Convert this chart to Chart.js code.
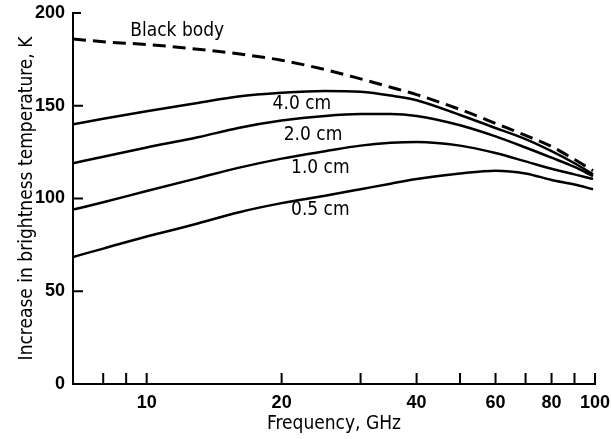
<!DOCTYPE html>
<html><head><meta charset="utf-8">
<script src="https://cdn.jsdelivr.net/npm/chart.js@4/dist/chart.umd.min.js"></script>
<style>html,body{margin:0;padding:0;background:#fff}#wrap{width:611px;height:439px}</style>
</head><body><div id="wrap"><canvas id="c" width="611" height="439"></canvas></div>
<script>
// Frequency (GHz) sample points
const frequencyGHz = [6.85, 8, 10, 13, 16, 20, 25, 30, 35, 40, 50, 60, 70, 80, 90, 99];
// Increase in brightness temperature, K
const blackBody = [186, 184.5, 183, 180.5, 178, 174.5, 169.5, 164.5, 160, 156, 148, 140.5, 134, 128, 121, 115];
const wave4cm   = [140, 143, 147, 151.5, 155, 157, 158, 157.5, 155.5, 153, 145, 138, 132, 125.5, 119, 113];
const wave2cm   = [119, 122.5, 127.5, 133, 138, 142, 144.5, 145.5, 145.5, 144.5, 139.5, 133.5, 127.5, 122, 117, 112];
const wave1cm   = [94, 98, 104, 111, 116.5, 121.5, 125.5, 128.5, 130, 130.5, 128.5, 124.5, 120, 116, 113, 110.5];
const wave05cm  = [68.5, 73, 79.5, 86.5, 92.5, 97.5, 101.5, 105, 108, 110.5, 113.5, 115, 113.5, 110, 107.5, 105];

const xTickValues = [8, 9, 10, 20, 30, 40, 50, 60, 70, 80, 90, 100];
const xTickLabels = [10, 20, 40, 60, 80, 100];
const yTickValues = [0, 50, 100, 150, 200];

const curveNames = ['Black body', '4.0 cm', '2.0 cm', '1.0 cm', '0.5 cm'];
// label anchors in data coordinates (GHz, K)
const labelFreq = [11.7, 22.2, 23.5, 24.4, 24.4];
const labelTemp = [190.3, 150.9, 134.2, 116.4, 93.8];

const TICK_FONT = "'Liberation Sans', Arial, sans-serif";
const TEXT_FONT = "'DejaVu Sans Condensed', 'DejaVu Sans', sans-serif";

const toPts = arr => frequencyGHz.map((f, i) => ({x: f, y: arr[i]}));
const mk = (name, arr, dashed) => ({
  label: name, data: toPts(arr), borderColor: '#000', backgroundColor: '#000',
  borderWidth: dashed ? 3 : 2.5, borderDash: dashed ? [13, 7] : [], pointRadius: 0,
  tension: 0.4, cubicInterpolationMode: 'monotone', fill: false
});

const zeroPad = s => { s.paddingLeft = 0; s.paddingRight = 0; s.paddingTop = 0; s.paddingBottom = 0; };

const tickMarks = {
  id: 'tickMarks',
  afterDatasetsDraw(chart) {
    const {ctx, scales: {x, y}} = chart;
    ctx.save();
    ctx.strokeStyle = '#000';
    ctx.lineWidth = 2;
    ctx.beginPath();
    xTickValues.forEach(v => {
      const px = x.getPixelForValue(v);
      ctx.moveTo(px, y.bottom); ctx.lineTo(px, y.bottom - 11);
    });
    yTickValues.filter(v => v > 0).forEach(v => {
      const py = y.getPixelForValue(v);
      ctx.moveTo(x.left, py); ctx.lineTo(x.left + (v === 200 ? 8 : 10), py);
    });
    ctx.stroke();
    ctx.fillStyle = '#000';
    ctx.font = '19px ' + TEXT_FONT;
    ctx.textAlign = 'center';
    ctx.textBaseline = 'middle';
    curveNames.forEach((t, i) => {
      ctx.fillText(t, x.getPixelForValue(labelFreq[i]), y.getPixelForValue(labelTemp[i]));
    });
    ctx.restore();
  }
};

new Chart(document.getElementById('c'), {
  type: 'line',
  data: { datasets: [
    mk(curveNames[0], blackBody, true),
    mk(curveNames[1], wave4cm, false),
    mk(curveNames[2], wave2cm, false),
    mk(curveNames[3], wave1cm, false),
    mk(curveNames[4], wave05cm, false)
  ]},
  options: {
    responsive: false, animation: false, devicePixelRatio: 1,
    layout: { padding: { left: 0, right: 16, top: 13, bottom: 0 } },
    plugins: { legend: { display: false }, tooltip: { enabled: false } },
    scales: {
      x: {
        type: 'logarithmic', min: 6.85, max: 100,
        afterBuildTicks: s => { s.ticks = xTickValues.map(v => ({value: v})); },
        afterFit: s => { s.height = 55; zeroPad(s); },
        grid: { display: false, drawTicks: false },
        border: { display: true, color: '#000', width: 2 },
        ticks: {
          autoSkip: false, maxRotation: 0, padding: 8, color: '#000',
          font: { family: TICK_FONT, size: 18, weight: 'bold' },
          callback: v => xTickLabels.includes(v) ? String(v) : ''
        },
        title: { display: true, text: 'Frequency, GHz', color: '#000',
          font: { family: TEXT_FONT, size: 19 }, padding: { top: 0, bottom: 4 } }
      },
      y: {
        min: 0, max: 200,
        afterBuildTicks: s => { s.ticks = yTickValues.map(v => ({value: v})); },
        afterFit: s => { s.width = 73; zeroPad(s); },
        grid: { display: false, drawTicks: false },
        border: { display: true, color: '#000', width: 2 },
        ticks: { padding: 8, color: '#000', font: { family: TICK_FONT, size: 18, weight: 'bold' } },
        title: { display: true, text: 'Increase in brightness temperature, K', color: '#000',
          font: { family: TEXT_FONT, size: 19 }, padding: { top: 16, bottom: 0 } }
      }
    }
  },
  plugins: [tickMarks]
});
</script></body></html>
